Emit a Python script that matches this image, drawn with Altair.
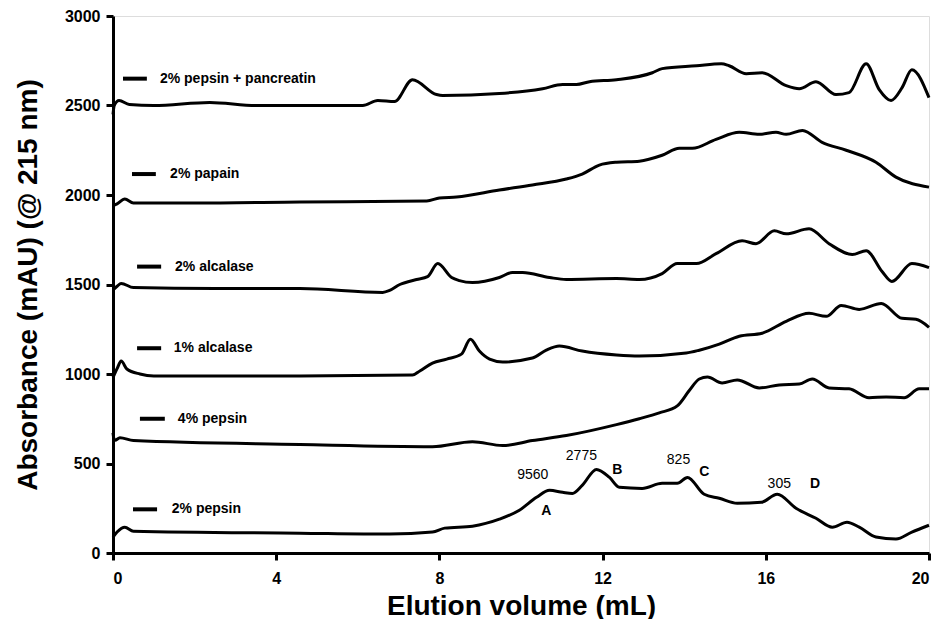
import altair as alt
import pandas as pd

# ---------------- data ----------------
series_names = ["2% pepsin + pancreatin", "2% papain", "2% alcalase",
                "1% alcalase", "4% pepsin", "2% pepsin"]

x_pp = [0, 0.03, 0.15, 0.4, 1.0, 2.37, 3.5, 6.12, 6.49, 6.9, 7.34, 7.93, 8.08, 9.47, 10.53, 11.02,
        11.36, 11.68, 12.34, 13.22, 13.46, 14.3, 14.91, 15.1, 15.52, 15.91, 16.5, 16.82, 17.23,
        17.72, 18.04, 18.46, 18.78, 19.07, 19.34, 19.58, 20]
y_pp = [2450, 2500, 2528, 2505, 2500, 2517, 2500, 2500, 2528, 2522, 2644, 2561, 2556, 2567, 2594,
        2617, 2617, 2633, 2644, 2683, 2706, 2722, 2733, 2722, 2678, 2683, 2611, 2594, 2633, 2561,
        2572, 2733, 2589, 2528, 2600, 2700, 2544]

x_pa = [0, 0.1, 0.29, 0.5, 2, 4.58, 7.69, 8.0, 8.42, 9.47, 10.28, 11.11, 11.5, 11.92, 12.34, 12.9,
        13.46, 13.88, 14.2, 14.78, 15.35, 15.84, 16.25, 16.5, 16.9, 17.38, 17.97, 18.7, 19.19, 20]
y_pa = [1940, 1950, 1978, 1956, 1955, 1961, 1967, 1983, 1989, 2028, 2056, 2089, 2117, 2167, 2183,
        2189, 2222, 2261, 2261, 2311, 2350, 2339, 2350, 2339, 2361, 2294, 2250, 2183, 2100, 2044]

x_a2 = [0, 0.1, 0.2, 0.5, 2.5, 4.58, 6.61, 6.78, 7.03, 7.44, 7.71, 7.96, 8.3, 8.49, 8.81, 9.47, 9.79,
        10.04, 10.7, 11.11, 12.34, 12.9, 13.46, 13.83, 14.3, 14.78, 15.42, 15.76, 16.21, 16.5, 17.06,
        17.55, 18.12, 18.46, 18.85, 19.09, 19.58, 20]
y_a2 = [1470, 1490, 1506, 1483, 1478, 1478, 1456, 1467, 1500, 1528, 1544, 1617, 1539, 1522, 1511,
        1539, 1567, 1567, 1539, 1528, 1533, 1528, 1561, 1617, 1617, 1672, 1744, 1728, 1800, 1783,
        1811, 1728, 1667, 1689, 1572, 1517, 1617, 1594]

x_a1 = [0, 0.1, 0.2, 0.34, 0.66, 1.0, 4.58, 7.34, 7.52, 7.83, 8.18, 8.54, 8.76, 8.98, 9.23, 9.55,
        10.28, 10.62, 10.94, 11.5, 12.34, 12.9, 14.05, 14.37, 14.86, 15.35, 15.91, 16.5, 17.06,
        17.48, 17.85, 18.29, 18.83, 19.34, 19.68, 20]
y_a1 = [980, 1030, 1072, 1028, 1000, 989, 989, 994, 1017, 1061, 1083, 1111, 1194, 1128, 1083, 1067,
        1089, 1133, 1156, 1128, 1106, 1100, 1117, 1133, 1167, 1211, 1228, 1294, 1339, 1322, 1383,
        1361, 1394, 1311, 1306, 1261]

x_p4 = [0, 0.02, 0.05, 0.17, 0.5, 4.58, 7.83, 8.81, 9.55, 10.28, 11.11, 12.34, 12.9, 13.39, 13.83,
        14.12, 14.37, 14.57, 14.93, 15.3, 15.84, 16.33, 16.82, 17.14, 17.55, 18.04, 18.53, 18.95,
        19.39, 19.76, 20]
y_p4 = [672, 640, 630, 644, 628, 606, 594, 622, 600, 628, 656, 717, 750, 783, 822, 906, 972, 983,
        950, 967, 922, 939, 944, 972, 922, 917, 867, 872, 867, 917, 917]

x_p2 = [0, 0.1, 0.29, 0.5, 4.58, 6.78, 7.83, 8.13, 8.81, 9.47, 9.96, 10.38, 10.7, 11.02, 11.26, 11.5,
        11.85, 12.17, 12.41, 12.97, 13.46, 13.83, 14.08, 14.49, 14.86, 15.3, 15.89, 16.28, 16.74,
        17.23, 17.63, 17.99, 18.29, 18.7, 19.19, 19.58, 20]
y_p2 = [89, 117, 144, 122, 111, 106, 117, 139, 150, 189, 239, 311, 350, 339, 333, 378, 467, 422, 367,
        361, 389, 389, 422, 328, 306, 278, 283, 328, 250, 194, 144, 172, 144, 89, 78, 117, 155]

# label dashes and texts (in data units)
lab_x1 = [0.245, 0.465, 0.59, 0.59, 0.66, 0.49]
lab_x2 = [0.83, 1.05, 1.18, 1.18, 1.27, 1.08]
lab_y = [2650, 2117, 1600, 1144, 750, 244]
lab_tx = [1.15, 1.40, 1.52, 1.49, 1.59, 1.44]

# annotations on the 2% pepsin trace
mw_text = ["9560", "2775", "825", "305"]
mw_x = [10.29, 11.48, 13.86, 16.33]
mw_y = [433, 544, 522, 383]
pk_text = ["A", "B", "C", "D"]
pk_x = [10.62, 12.36, 14.49, 17.21]
pk_y = [233, 461, 450, 383]

# ---------------- build tables ----------------
all_x = [x_pp, x_pa, x_a2, x_a1, x_p4, x_p2]
all_y = [y_pp, y_pa, y_a2, y_a1, y_p4, y_p2]
rows = []
for name, xs, ys in zip(series_names, all_x, all_y):
    for i, (a, b) in enumerate(zip(xs, ys)):
        rows.append({"series": name, "x": a, "y": b, "order": i})
df = pd.DataFrame(rows)

lab_df = pd.DataFrame({"name": series_names, "x1": lab_x1, "x2": lab_x2, "y": lab_y, "tx": lab_tx})
mw_df = pd.DataFrame({"t": mw_text, "x": mw_x, "y": mw_y})
pk_df = pd.DataFrame({"t": pk_text, "x": pk_x, "y": pk_y})

FONT = "Liberation Sans"
xscale = alt.Scale(domain=[0, 20], nice=False, zero=False)
yscale = alt.Scale(domain=[0, 3000], nice=False)

xaxis = alt.Axis(values=[0, 4, 8, 12, 16, 20], format="d", title="Elution volume (mL)",
                 labelFont=FONT, labelFontSize=16, labelFontWeight="bold", labelColor="black",
                 titleFont=FONT, titleFontSize=28, titleFontWeight="bold", titleColor="black",
                 tickSize=7, tickWidth=3, tickColor="black", domainWidth=3, domainColor="black",
                 labelPadding=10, titlePadding=6, grid=False)
yaxis = alt.Axis(values=[0, 500, 1000, 1500, 2000, 2500, 3000], format="d",
                 title="Absorbance (mAU) (@ 215 nm)",
                 labelFont=FONT, labelFontSize=16, labelFontWeight="bold", labelColor="black",
                 titleFont=FONT, titleFontSize=28, titleFontWeight="bold", titleColor="black",
                 tickSize=7, tickWidth=3, tickColor="black", domainWidth=3, domainColor="black",
                 labelPadding=6, titlePadding=22, grid=False)

lines = alt.Chart(df).mark_line(color="black", strokeWidth=3, interpolate="monotone").encode(
    x=alt.X("x:Q", scale=xscale, axis=xaxis),
    y=alt.Y("y:Q", scale=yscale, axis=yaxis),
    detail="series:N",
    order="order:Q",
)

dashes = alt.Chart(lab_df).mark_rule(color="black", strokeWidth=4).encode(
    x=alt.X("x1:Q", scale=xscale), x2="x2:Q", y=alt.Y("y:Q", scale=yscale))

labels = alt.Chart(lab_df).mark_text(align="left", baseline="middle", font=FONT, fontSize=14,
                                     fontWeight="bold", color="black").encode(
    x=alt.X("tx:Q", scale=xscale), y=alt.Y("y:Q", scale=yscale), text="name:N")

mw = alt.Chart(mw_df).mark_text(align="center", baseline="middle", font=FONT, fontSize=14,
                                color="black").encode(
    x=alt.X("x:Q", scale=xscale), y=alt.Y("y:Q", scale=yscale), text="t:N")

pk = alt.Chart(pk_df).mark_text(align="center", baseline="middle", font=FONT, fontSize=14,
                                fontWeight="bold", color="black").encode(
    x=alt.X("x:Q", scale=xscale), y=alt.Y("y:Q", scale=yscale), text="t:N")

chart = alt.layer(lines, dashes, labels, mw, pk).properties(
    width=816, height=537,
    autosize=alt.AutoSizeParams(type="none"),
    padding={"left": 105, "top": 8, "right": 9, "bottom": 66},
).configure_view(stroke="black", strokeWidth=3).configure(background="white")

chart.save("out.html", embed_options={"renderer": "svg", "actions": False})
